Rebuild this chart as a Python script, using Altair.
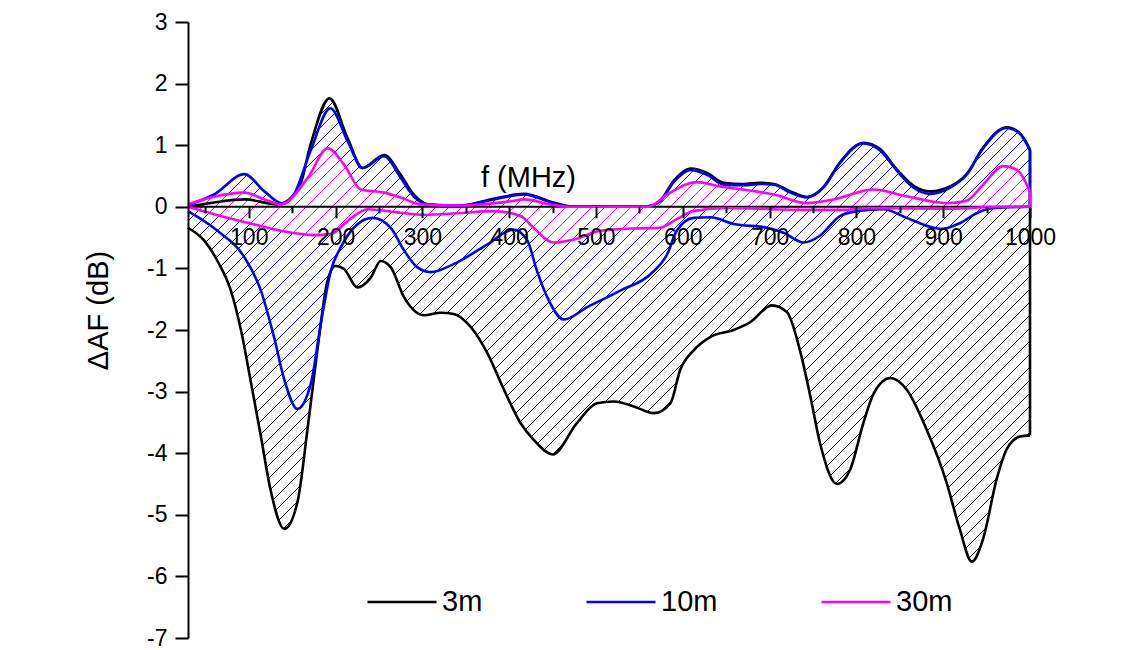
import numpy as np
import pandas as pd
import altair as alt

# ---------------- data ----------------
series_names = ["3m", "10m", "30m"]
series_colors = ["#000000", "#0000FF", "#FF00FF"]

f_3m_hi = [30, 60, 95, 133, 158, 171, 193, 214, 231, 256, 275, 290, 306, 340, 382, 417, 451, 470, 560, 574,
           590, 609, 628, 647, 670, 689, 705, 724, 743, 762, 781, 808, 827, 847, 866, 885, 908, 927, 946, 973, 988, 1000]
v_3m_hi = [0.0, 0.07, 0.12, 0.04, 0.31, 1.0, 1.76, 1.11, 0.63, 0.84, 0.52, 0.2, 0.04, 0.01, 0.13, 0.21, 0.07, 0.01, 0.01, 0.1,
           0.43, 0.62, 0.55, 0.39, 0.37, 0.39, 0.37, 0.25, 0.16, 0.32, 0.72, 1.04, 0.94, 0.6, 0.34, 0.25, 0.33, 0.53, 0.96, 1.29, 1.2, 0.93]

f_3m_lo = [30, 48.7, 64, 79.4, 91, 102, 114, 125, 141, 156, 167.6, 179, 190.7, 200, 209.8, 225, 240.5, 252, 263.5, 279,
           302, 321, 336, 355.6, 375, 394, 413, 428, 450, 478, 501, 520.6, 543.5, 566.5, 585.7, 597, 612.5, 632, 658.6, 678,
           702.7, 720, 735, 747, 758, 777.6, 793, 808, 820, 839, 858, 881, 904, 919, 933, 946, 961.6, 973, 988.5, 1000]
v_3m_lo = [-0.34, -0.55, -0.88, -1.36, -2.0, -2.81, -3.73, -4.59, -5.23, -4.8, -3.62, -2.33, -1.2, -0.96, -1.01, -1.31, -1.15, -0.88, -0.98, -1.47,
           -1.76, -1.72, -1.74, -1.95, -2.38, -2.97, -3.51, -3.78, -4.02, -3.51, -3.19, -3.16, -3.24, -3.35, -3.19, -2.65, -2.33, -2.11, -2.0, -1.87,
           -1.6, -1.71, -2.33, -3.08, -3.83, -4.5, -4.26, -3.51, -3.03, -2.78, -2.97, -3.62, -4.48, -5.23, -5.76, -5.39, -4.42, -3.94, -3.73, -3.71]

f_10m_hi = [30, 60, 95, 118, 139, 152, 171, 194, 214, 231, 256, 275, 290, 306, 344, 382, 417, 451, 470, 559, 574,
            590, 609, 628, 647, 670, 689, 705, 724, 743, 762, 781, 808, 827, 847, 866, 885, 908, 927, 946, 973, 988, 1000]
v_10m_hi = [0.03, 0.2, 0.53, 0.25, 0.05, 0.2, 0.9, 1.6, 1.06, 0.63, 0.82, 0.47, 0.17, 0.04, 0.02, 0.12, 0.2, 0.06, 0.0, 0.01, 0.09,
            0.41, 0.6, 0.52, 0.36, 0.35, 0.37, 0.36, 0.23, 0.15, 0.31, 0.71, 1.03, 0.92, 0.58, 0.31, 0.21, 0.31, 0.52, 0.95, 1.28, 1.19, 0.92]

f_10m_lo = [30, 64, 95, 114, 129, 141, 156, 171.5, 183, 194.5, 206, 221, 242.5, 263.5, 279, 294, 309.5, 336, 375, 405,
            421, 432, 444, 463, 490, 528, 563, 582, 593, 612.5, 632, 659, 697, 716, 739, 758, 781, 801, 831, 858,
            889, 898, 920, 939, 958, 1000]
v_10m_lo = [-0.07, -0.39, -0.82, -1.36, -2.11, -2.81, -3.28, -2.87, -1.9, -1.04, -0.66, -0.34, -0.18, -0.34, -0.71, -0.98, -1.06, -0.93, -0.61, -0.37,
            -0.55, -1.04, -1.47, -1.83, -1.63, -1.36, -1.09, -0.77, -0.39, -0.18, -0.17, -0.28, -0.34, -0.42, -0.58, -0.47, -0.15, -0.07, -0.04, -0.18,
            -0.34, -0.36, -0.26, -0.1, -0.02, 0.0]

f_30m_hi = [30, 95, 118, 137, 168, 191, 210, 229, 256, 275, 298, 344, 402, 417, 451, 470, 560, 582, 616, 643,
            674, 705, 743, 774, 820, 858, 904, 927, 946, 969, 985, 1000]
v_30m_hi = [0.04, 0.23, 0.12, 0.04, 0.47, 0.95, 0.68, 0.28, 0.23, 0.15, 0.04, 0.02, 0.09, 0.12, 0.03, 0.0, 0.0, 0.2, 0.4, 0.33,
            0.27, 0.2, 0.06, 0.12, 0.28, 0.17, 0.06, 0.1, 0.36, 0.66, 0.6, 0.25]

f_30m_lo = [30, 60, 99, 137, 175, 195, 214, 237, 271, 302, 344, 382, 413, 428, 451, 475, 505, 547, 574, 593,
            612, 650, 743, 781, 820, 908, 966, 1000]
v_30m_lo = [0.0, -0.12, -0.26, -0.39, -0.46, -0.44, -0.23, -0.04, -0.09, -0.13, -0.1, -0.07, -0.15, -0.34, -0.58, -0.53, -0.39, -0.35, -0.34, -0.2,
            -0.07, -0.02, -0.05, -0.05, -0.02, -0.03, 0.0, 0.0]

x_tick_values = list(range(50, 1001, 50))
y_tick_values = [-7 + 0.5 * i for i in range(21)]

# ---------------- layout constants ----------------
W, H = 842, 616
TOP = 14
X_MIN, X_MAX = 30, 1000
Y_MIN, Y_MAX = -7, 3
HATCH = 13.0
FONT = "Liberation Sans"
ZERO_FROM_BOTTOM = H * (0 - Y_MIN) / (Y_MAX - Y_MIN)

curves = {
    "3m": (f_3m_hi, v_3m_hi, f_3m_lo, v_3m_lo),
    "10m": (f_10m_hi, v_10m_hi, f_10m_lo, v_10m_lo),
    "30m": (f_30m_hi, v_30m_hi, f_30m_lo, v_30m_lo),
}


def monotone(xs, ys, xq):
    """Same curve as d3.curveMonotoneX (Vega 'monotone' interpolation)."""
    xs = np.asarray(xs, float)
    ys = np.asarray(ys, float)
    n = len(xs)
    h = np.diff(xs)
    s = np.diff(ys) / h
    t = np.zeros(n)
    for i in range(1, n - 1):
        p = (s[i - 1] * h[i] + s[i] * h[i - 1]) / (h[i - 1] + h[i])
        t[i] = (np.sign(s[i - 1]) + np.sign(s[i])) * min(abs(s[i - 1]), abs(s[i]), 0.5 * abs(p))
    t[0] = (3 * s[0] - t[1]) / 2
    t[-1] = (3 * s[-1] - t[-2]) / 2
    xq = np.clip(np.asarray(xq, float), xs[0], xs[-1])
    k = np.clip(np.searchsorted(xs, xq, side="right") - 1, 0, n - 2)
    hk = h[k]
    u = (xq - xs[k]) / hk
    h00 = 2 * u**3 - 3 * u**2 + 1
    h10 = u**3 - 2 * u**2 + u
    h01 = -2 * u**3 + 3 * u**2
    h11 = u**3 - u**2
    return h00 * ys[k] + h10 * hk * t[k] + h01 * ys[k + 1] + h11 * hk * t[k + 1]


# ---------------- hatch segments (45 deg, shared grid) ----------------
F = np.arange(X_MIN, X_MAX + 1e-9, 0.25)
sx = W / (X_MAX - X_MIN)
sy = H / (Y_MAX - Y_MIN)
Xp = (F - X_MIN) * sx
hatch_rows = []
for name in series_names:
    fh, vh, fl, vl = curves[name]
    up = monotone(fh, vh, F)
    lo = monotone(fl, vl, F)
    for c in np.arange(4.0, W + H, HATCH):
        yl = Y_MAX - (c - Xp) / sy
        inside = (yl <= up) & (yl >= lo)
        edges = np.flatnonzero(np.diff(np.concatenate([[0], inside.astype(int), [0]])))
        for s0, e0 in zip(edges[::2], edges[1::2] - 1):
            if e0 > s0:
                hatch_rows.append({"series": name, "f": F[s0], "y": yl[s0], "f2": F[e0], "y2": yl[e0]})
hatch_df = pd.DataFrame(hatch_rows)

x_scale = alt.Scale(domain=[X_MIN, X_MAX], nice=False, zero=False)
y_scale = alt.Scale(domain=[Y_MIN, Y_MAX], nice=False, zero=False)

legend = alt.Legend(
    orient="none", legendX=178, legendY=544, direction="horizontal", title=None,
    symbolType="stroke", symbolSize=4761, symbolStrokeWidth=2.6,
    labelFont=FONT, labelFontSize=29, labelColor="black", labelOffset=4,
    columnPadding=98, padding=0,
)
color = alt.Color("series:N", scale=alt.Scale(domain=series_names, range=series_colors), legend=legend)

x_axis = alt.Axis(
    values=x_tick_values, orient="bottom", offset=-ZERO_FROM_BOTTOM, domain=False, grid=False, zindex=1,
    tickSize={"condition": {"test": "datum.value % 100 === 0", "value": 11}, "value": 6},
    tickWidth=2, tickColor="black",
    labelExpr="datum.value % 100 === 0 ? '' + datum.value : ''",
    labelFont=FONT, labelFontSize=23, labelColor="black", labelPadding=9,
    labelFlush=False, labelOverlap=False,
    title="f (MHz)", titleFont=FONT, titleFontSize=29, titleFontWeight="normal", titleColor="black",
    titleX=340, titleY=-20, titleAlign="center", titleBaseline="alphabetic",
)
y_axis = alt.Axis(
    values=y_tick_values, orient="left", grid=False, zindex=1,
    domainWidth=2, domainColor="black",
    tickSize={"condition": {"test": "datum.value % 1 === 0", "value": 13}, "value": 7},
    tickWidth=2, tickColor="black",
    labelExpr="datum.value % 1 === 0 ? '' + datum.value : ''",
    labelFont=FONT, labelFontSize=23, labelColor="black", labelPadding=8, labelOverlap=False,
    title="ΔAF (dB)", titleFont=FONT, titleFontSize=29, titleFontWeight="normal", titleColor="black",
    titleX=-75, titleY=288, titleAlign="center", titleBaseline="bottom", titleAngle=270,
)

hatch = alt.Chart(hatch_df).mark_rule(strokeWidth=1).encode(
    x=alt.X("f:Q", scale=x_scale, axis=x_axis),
    y=alt.Y("y:Q", scale=y_scale, axis=y_axis),
    x2="f2:Q",
    y2="y2:Q",
    color=color,
)

zero_line = alt.Chart(pd.DataFrame({"v": [0]})).mark_rule(strokeWidth=2, color="black").encode(
    y=alt.Y("v:Q", scale=y_scale)
)

layers = [hatch, zero_line]
for name in series_names:
    fh, vh, fl, vl = curves[name]
    df = pd.DataFrame({
        "series": name,
        "curve": ["hi"] * len(fh) + ["lo"] * len(fl),
        "f": list(fh) + list(fl),
        "v": list(vh) + list(vl),
    })
    lines = alt.Chart(df).mark_line(interpolate="monotone", strokeWidth=2.6).encode(
        x=alt.X("f:Q", scale=x_scale),
        y=alt.Y("v:Q", scale=y_scale),
        detail="curve:N",
        color=color,
    )
    end_df = pd.DataFrame({"series": [name], "f": [fh[-1]], "lo": [vl[-1]], "hi": [vh[-1]]})
    end_rule = alt.Chart(end_df).mark_rule(strokeWidth=2.6).encode(
        x=alt.X("f:Q", scale=x_scale),
        y=alt.Y("lo:Q", scale=y_scale),
        y2="hi:Q",
        color=color,
    )
    layers += [lines, end_rule]

chart = alt.layer(*layers).properties(
    width=W, height=H,
    background="white",
    autosize=alt.AutoSizeParams(type="none"),
    padding={"left": 180, "top": TOP, "right": 60, "bottom": 14},
).configure_view(strokeWidth=0, stroke="transparent")

chart.save("out.html", embed_options={"renderer": "svg", "actions": False})
